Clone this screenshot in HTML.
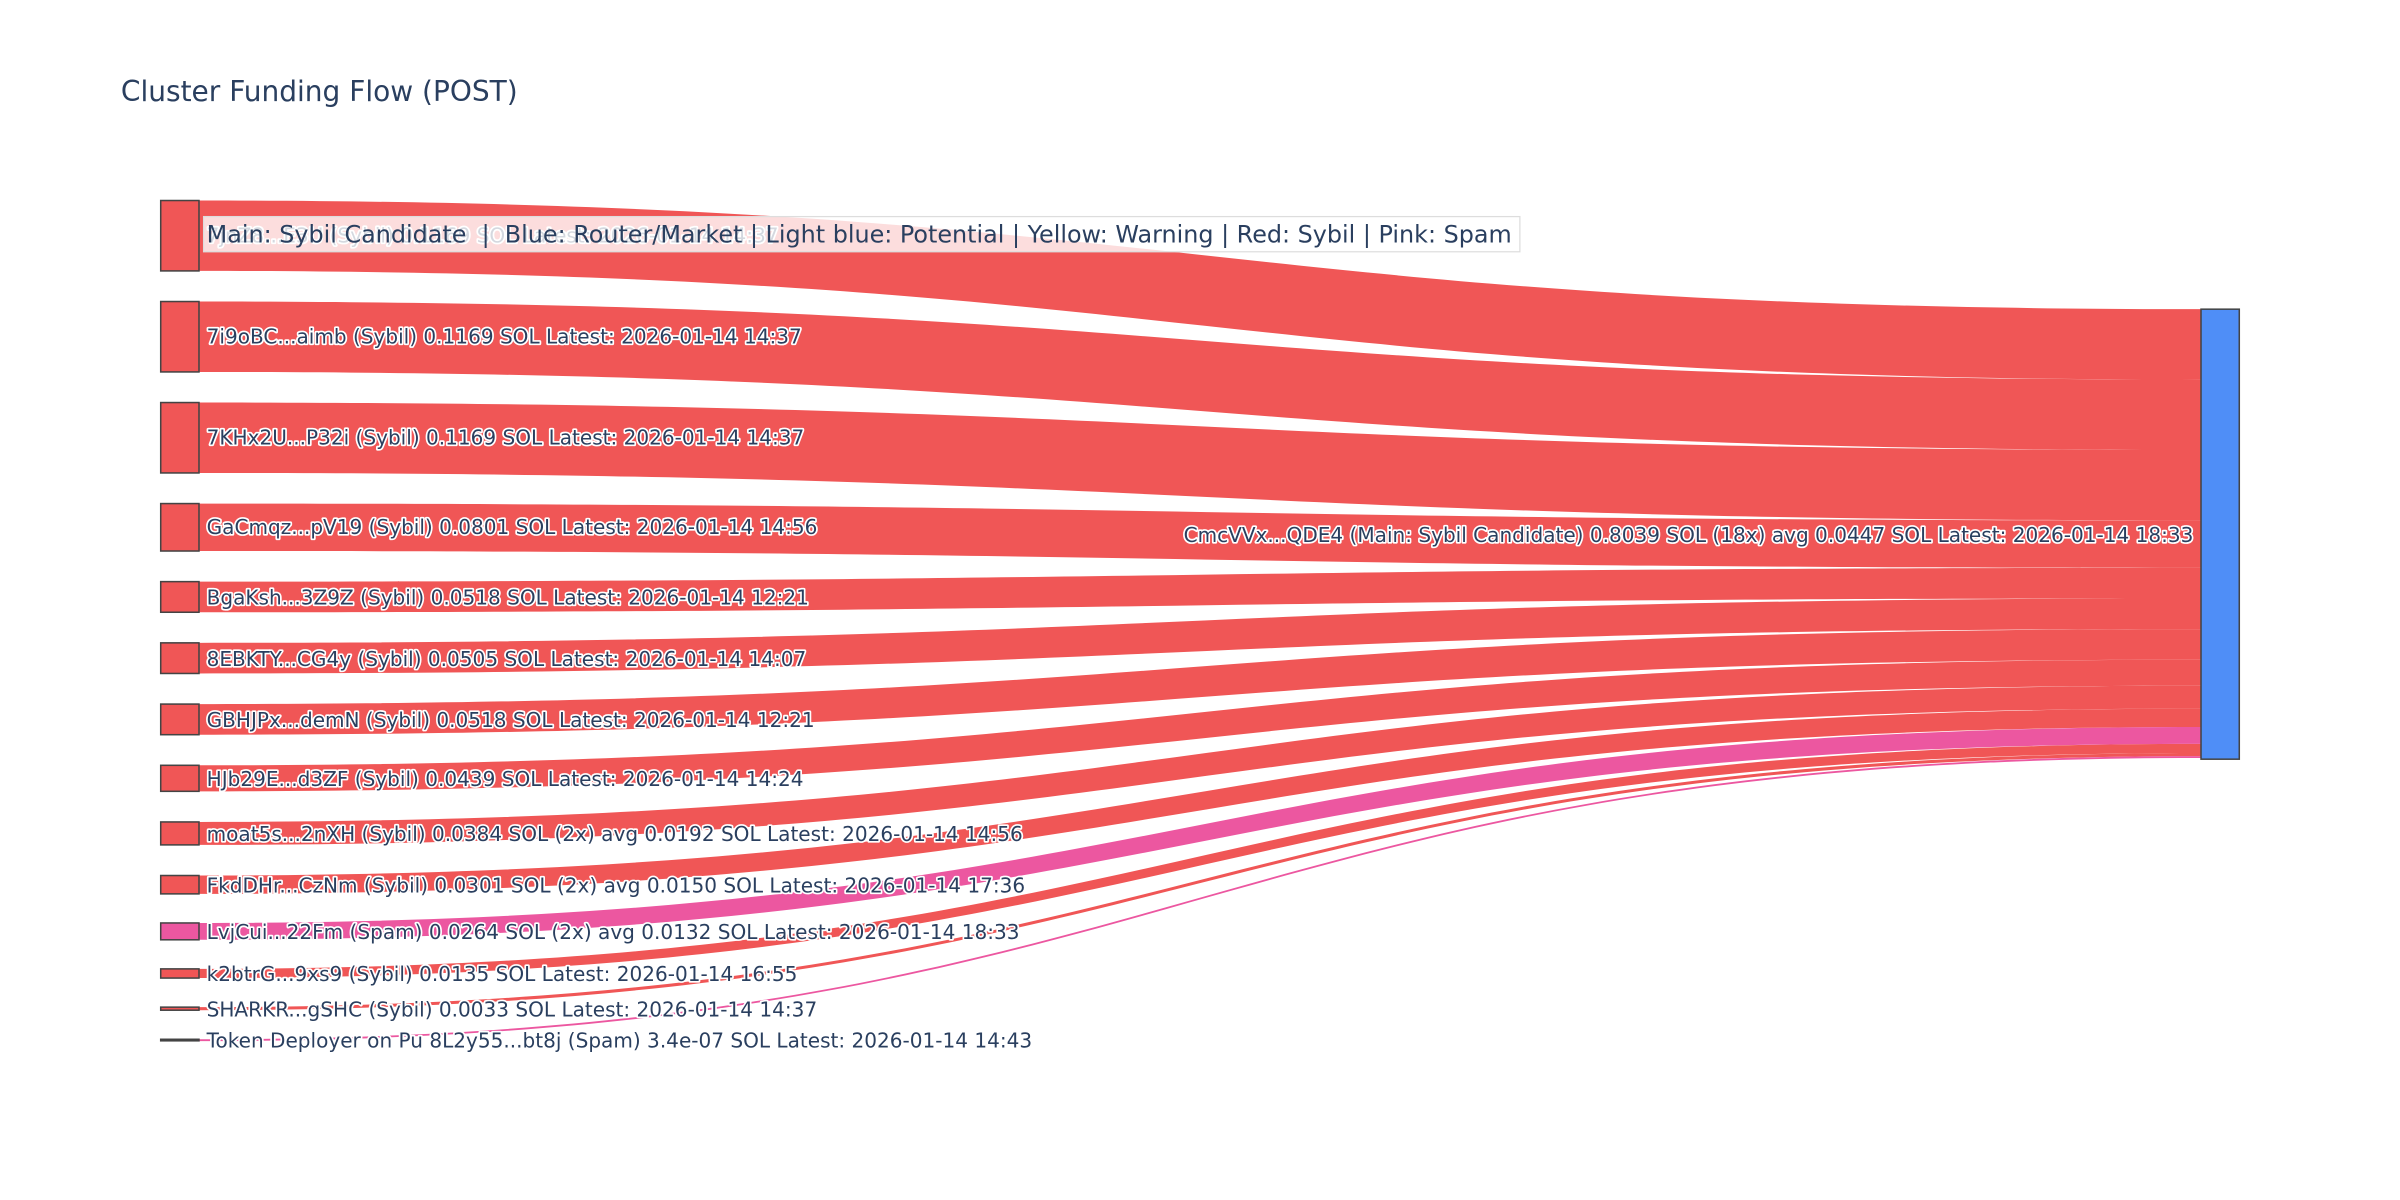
<!DOCTYPE html>
<html><head><meta charset="utf-8"><style>
html,body{margin:0;padding:0;background:#fff;}
svg{display:block;}
text{font-family:"DejaVu Sans","Liberation Sans",sans-serif;white-space:pre;}
.l{font-size:13.1px;fill:#2a3f5f;stroke:#fff;stroke-width:2.2px;paint-order:stroke;stroke-linejoin:round;}
</style></head><body>
<svg width="2400" height="1200" viewBox="0 0 1568 784" xmlns="http://www.w3.org/2000/svg" xml:space="preserve">
<rect width="1568" height="784" fill="#fff"/>
<text x="79" y="66" font-size="18.3" fill="#2a3f5f">Cluster Funding Flow (POST)</text>
<g fill="#f05656">
<path d="M130,131 C784,131 784,202 1438,202 L1438,248 C784,248 784,177 130,177 Z"/>
<path d="M130,197 C784,197 784,248 1438,248 L1438,294 C784,294 784,243 130,243 Z"/>
<path d="M130,263 C784,263 784,294 1438,294 L1438,340 C784,340 784,309 130,309 Z"/>
<path d="M130,329 C784,329 784,340 1438,340 L1438,371 C784,371 784,360 130,360 Z"/>
<path d="M130,380 C784,380 784,371 1438,371 L1438,391 C784,391 784,400 130,400 Z"/>
<path d="M130,420 C784,420 784,391 1438,391 L1438,411 C784,411 784,440 130,440 Z"/>
<path d="M130,460 C784,460 784,411 1438,411 L1438,431 C784,431 784,480 130,480 Z"/>
<path d="M130,500 C784,500 784,431 1438,431 L1438,448 C784,448 784,517 130,517 Z"/>
<path d="M130,537 C784,537 784,448 1438,448 L1438,463 C784,463 784,552 130,552 Z"/>
<path d="M130,572 C784,572 784,463 1438,463 L1438,475 C784,475 784,584 130,584 Z"/>
<path d="M130,633 C784,633 784,486 1438,486 L1438,492 C784,492 784,639 130,639 Z"/>
<path d="M130,658 C784,658 784,492 1438,492 L1438,494 C784,494 784,660 130,660 Z"/>
</g>
<g fill="#ec57a0">
<path d="M130,603 C784,603 784,475 1438,475 L1438,486 C784,486 784,614 130,614 Z"/>
<path d="M130,679 C784,679 784,494 1438,494 L1438,495.2 C784,495.2 784,680.2 130,680.2 Z"/>
</g>
<g stroke="#444" stroke-width="1" fill="#f05656">
<rect x="105" y="131" width="25" height="46"/>
<rect x="105" y="197" width="25" height="46"/>
<rect x="105" y="263" width="25" height="46"/>
<rect x="105" y="329" width="25" height="31"/>
<rect x="105" y="380" width="25" height="20"/>
<rect x="105" y="420" width="25" height="20"/>
<rect x="105" y="460" width="25" height="20"/>
<rect x="105" y="500" width="25" height="17"/>
<rect x="105" y="537" width="25" height="15"/>
<rect x="105" y="572" width="25" height="12"/>
<rect x="105" y="603" width="25" height="11" fill="#ec57a0"/>
<rect x="105" y="633" width="25" height="6"/>
<rect x="105" y="658" width="25" height="2"/>
<rect x="105" y="679" width="25" height="1" fill="#222"/>
<rect x="1438" y="202" width="25" height="294" fill="#4f8ef7"/>
</g>
<g class="l">
<text x="135" y="158.5">7jnZ8...E3U (Sybil) 0.1169 SOL Latest: 2026-01-14 14:37</text>
<text x="135" y="224.5">7i9oBC...aimb (Sybil) 0.1169 SOL Latest: 2026-01-14 14:37</text>
<text x="135" y="290.5">7KHx2U...P32i (Sybil) 0.1169 SOL Latest: 2026-01-14 14:37</text>
<text x="135" y="349">GaCmqz...pV19 (Sybil) 0.0801 SOL Latest: 2026-01-14 14:56</text>
<text x="135" y="395">BgaKsh...3Z9Z (Sybil) 0.0518 SOL Latest: 2026-01-14 12:21</text>
<text x="135" y="435">8EBKTY...CG4y (Sybil) 0.0505 SOL Latest: 2026-01-14 14:07</text>
<text x="135" y="475">GBHJPx...demN (Sybil) 0.0518 SOL Latest: 2026-01-14 12:21</text>
<text x="135" y="513.5">HJb29E...d3ZF (Sybil) 0.0439 SOL Latest: 2026-01-14 14:24</text>
<text x="135" y="549.5">moat5s...2nXH (Sybil) 0.0384 SOL (2x) avg 0.0192 SOL Latest: 2026-01-14 14:56</text>
<text x="135" y="583">FkdDHr...CzNm (Sybil) 0.0301 SOL (2x) avg 0.0150 SOL Latest: 2026-01-14 17:36</text>
<text x="135" y="613.5">LvjCui...22Fm (Spam) 0.0264 SOL (2x) avg 0.0132 SOL Latest: 2026-01-14 18:33</text>
<text x="135" y="641">k2btrG...9xs9 (Sybil) 0.0135 SOL Latest: 2026-01-14 16:55</text>
<text x="135" y="664">SHARKR...gSHC (Sybil) 0.0033 SOL Latest: 2026-01-14 14:37</text>
<text x="135" y="684.5">Token Deployer on Pu 8L2y55...bt8j (Spam) 3.4e-07 SOL Latest: 2026-01-14 14:43</text>
<text x="1433" y="354" text-anchor="end">CmcVVx...QDE4 (Main: Sybil Candidate) 0.8039 SOL (18x) avg 0.0447 SOL Latest: 2026-01-14 18:33</text>
</g>
<rect x="133" y="141.5" width="860" height="23" fill="#fff" fill-opacity="0.8" stroke="#ddd" stroke-width="0.8"/>
<text x="135" y="158.5" font-size="15.6" fill="#2a3f5f">Main: Sybil Candidate  |  Blue: Router/Market | Light blue: Potential | Yellow: Warning | Red: Sybil | Pink: Spam</text>
</svg>
</body></html>
